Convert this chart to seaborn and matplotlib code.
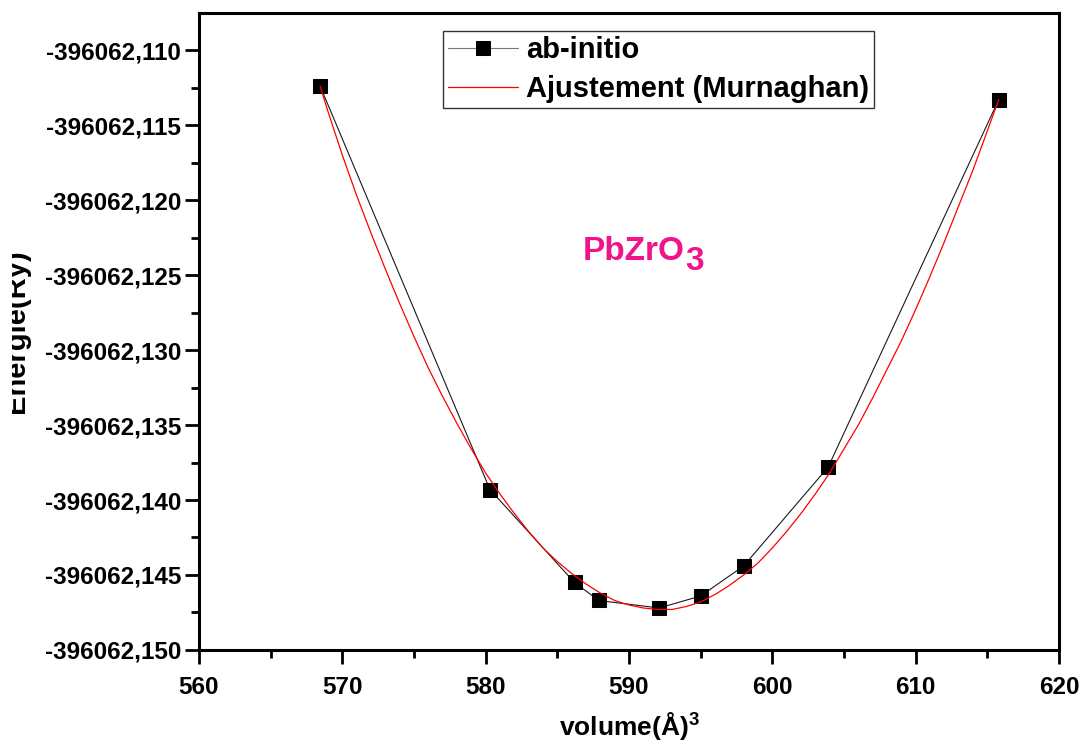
import numpy as np
import pandas as pd
import seaborn as sns
import matplotlib.pyplot as plt
from matplotlib.ticker import MultipleLocator, FuncFormatter
from matplotlib.transforms import Bbox, TransformedBbox

# ============ data ============
volume = [568.45, 580.3, 586.2, 587.9, 592.1, 595.0, 598.0, 603.9, 615.8]
energy = [-396062.1124, -396062.1393, -396062.1455, -396062.1467, -396062.1472,
          -396062.1464, -396062.1444, -396062.1378, -396062.1133]

# red Murnaghan curve
fit_volume = [568.45, 569, 570, 571, 572, 573, 574, 575, 576, 577, 578, 579, 580,
              581, 582, 583, 584, 585, 586, 587, 588, 589, 590, 591, 592, 593,
              594, 595, 596, 597, 598, 599, 600, 601, 602, 603, 604, 605, 606,
              607, 608, 609, 610, 611, 612, 613, 614, 615, 615.8]
fit_energy = [-396062.1124, -396062.1141, -396062.1170, -396062.1197, -396062.1222,
              -396062.1246, -396062.1269, -396062.1291, -396062.1312, -396062.1331,
              -396062.1349, -396062.1366, -396062.1382, -396062.1396, -396062.1409,
              -396062.1421, -396062.1432, -396062.1441, -396062.1449, -396062.1456,
              -396062.1462, -396062.1467, -396062.1470, -396062.1472, -396062.1473,
              -396062.1473, -396062.1471, -396062.1468, -396062.1463, -396062.1457,
              -396062.1450, -396062.1442, -396062.1432, -396062.1421, -396062.1409,
              -396062.1396, -396062.1382, -396062.1366, -396062.1350, -396062.1332,
              -396062.1313, -396062.1294, -396062.1273, -396062.1251, -396062.1228,
              -396062.1204, -396062.1180, -396062.1154, -396062.1133]

df = pd.DataFrame({"V": volume, "E": energy})
fit = pd.DataFrame({"V": fit_volume, "E": fit_energy})

sns.set_theme(style="ticks")
plt.rcParams['font.family'] = ['Liberation Sans', 'DejaVu Sans']
plt.rcParams['font.weight'] = 'bold'
plt.rcParams['text.color'] = 'black'
plt.rcParams['axes.labelcolor'] = 'black'
plt.rcParams['mathtext.fontset'] = 'custom'
plt.rcParams['mathtext.bf'] = 'Liberation Sans:bold'
plt.rcParams['mathtext.rm'] = 'Liberation Sans:bold'

fig = plt.figure(figsize=(10.82, 7.42), dpi=100)
ax = fig.add_axes([0.1839, 0.124, 0.7948, 0.8585])

sns.lineplot(data=df, x="V", y="E", ax=ax, color="black", lw=0.8, marker="s",
             markersize=10, markeredgecolor="black", sort=False, estimator=None,
             label="ab-initio")
sns.lineplot(data=fit, x="V", y="E", ax=ax, color="red", lw=0.9, sort=False,
             estimator=None, label="Ajustement (Murnaghan)")
ax.lines[0].set_color("#1a1a1a")
ax.lines[0].set_markerfacecolor("black")

ax.set_xlim(560, 620)
ax.set_ylim(-396062.150, -396062.10753)
ax.xaxis.set_major_locator(MultipleLocator(10))
ax.xaxis.set_minor_locator(MultipleLocator(5))
ax.yaxis.set_major_locator(MultipleLocator(0.005))
ax.yaxis.set_minor_locator(MultipleLocator(0.0025))
ax.yaxis.set_major_formatter(FuncFormatter(lambda v, p: f"{v:.3f}".replace('.', ',')))

for s in ax.spines.values():
    s.set_linewidth(2.2)
    s.set_color("black")
ax.tick_params(which='major', direction='out', length=10, width=2, labelsize=17.5,
               colors='black', labelcolor='black')
ax.tick_params(which='minor', direction='out', length=6, width=2, colors='black')
ax.tick_params(axis='x', which='major', pad=9)
ax.tick_params(axis='y', which='major', pad=3)
for lab in ax.get_xticklabels() + ax.get_yticklabels():
    lab.set_fontweight('bold')

ax.set_xlabel(r"volume(Å)$^{\mathbf{3}}$", fontsize=19, fontweight='bold', labelpad=8)
ax.set_ylabel("Energie(Ry)", fontsize=21, fontweight='bold')
ax.yaxis.set_label_coords(-0.1965, 0.5)
ylab = ax.yaxis.label
ylab.set_clip_box(TransformedBbox(Bbox([[12 / 1082, 0], [1, 1]]), fig.transFigure))
ylab.set_clip_on(True)

leg = ax.legend(loc='upper left', bbox_to_anchor=(0.284, 0.971), fontsize=21,
                frameon=True, fancybox=False, handlelength=2.4, borderpad=0.15,
                labelspacing=0.4, handletextpad=0.3, borderaxespad=0)
leg.get_frame().set_edgecolor('black')
leg.get_frame().set_linewidth(1.0)
leg.get_lines()[0].set_color('#777777')
for t in leg.get_texts():
    t.set_fontweight('bold')
    t.set_color('black')

t = ax.text(0.4465, 0.612, "PbZrO", transform=ax.transAxes, fontsize=24,
            fontweight='bold', color='#F0148C')
ax.annotate("3", xy=(1, 0), xycoords=t, xytext=(0.5, -7), textcoords='offset points',
            fontsize=24, fontweight='bold', color='#F0148C', va='bottom')

fig.savefig("out.png", dpi=100)
